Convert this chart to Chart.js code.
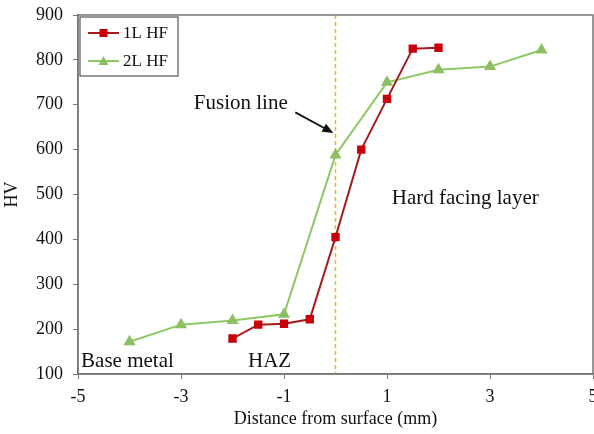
<!DOCTYPE html>
<html>
<head>
<meta charset="utf-8">
<script src="https://cdn.jsdelivr.net/npm/chart.js@4"></script>
<style>
  html, body { margin: 0; padding: 0; background: #fff; }
  #wrap { width: 594px; height: 434px; }
</style>
</head>
<body>
<div id="wrap"><canvas id="hvChart" width="594" height="434"></canvas></div>
<script>
// Hardness profile data
const xOneLayer = [-2, -1.5, -1, -0.5, 0, 0.5, 1, 1.5, 2];
const hvOneLayer = [179, 210, 212, 222, 405, 600, 713, 825, 827];
const xTwoLayer = [-4, -3, -2, -1, 0, 1, 2, 3, 4];
const hvTwoLayer = [172, 210, 219, 233, 588, 750, 778, 785, 822];
const seriesNames = ['1L HF', '2L HF'];

// Text notes: [label, x, y]
const notes = [
  ['Fusion line', -1.84, 702],
  ['Hard facing layer', 2.52, 492],
  ['Base metal', -4.04, 127],
  ['HAZ', -1.28, 127]
];
const fusionX = 0;
const arrowFrom = [-0.78, 683];
const arrowTo = [-0.04, 637];

const serif = "'Liberation Serif', 'Times New Roman', serif";

function toPoints(xs, ys) {
  return xs.map((x, i) => ({ x: x, y: ys[i] }));
}

// Frame, fusion line, annotations and legend
const extrasPlugin = {
  id: 'extras',
  beforeDatasetsDraw(chart) {
    const { ctx, chartArea, scales } = chart;
    const px = scales.x.getPixelForValue(fusionX);
    ctx.save();
    ctx.strokeStyle = '#F2B705';
    ctx.lineWidth = 1.5;
    ctx.setLineDash([4, 3]);
    ctx.beginPath();
    ctx.moveTo(px, chartArea.top);
    ctx.lineTo(px, chartArea.bottom);
    ctx.stroke();
    ctx.restore();
  },
  afterDraw(chart) {
    const { ctx, chartArea, scales } = chart;
    const xs = scales.x, ys = scales.y;
    ctx.save();

    // frame
    ctx.strokeStyle = '#777';
    ctx.lineWidth = 1.5;
    ctx.strokeRect(chartArea.left, chartArea.top, chartArea.right - chartArea.left, chartArea.bottom - chartArea.top);

    // notes
    ctx.fillStyle = '#111';
    ctx.font = '21px ' + serif;
    ctx.textAlign = 'center';
    ctx.textBaseline = 'middle';
    notes.forEach(n => {
      ctx.fillText(n[0], xs.getPixelForValue(n[1]), ys.getPixelForValue(n[2]));
    });

    // arrow
    const x1 = xs.getPixelForValue(arrowFrom[0]), y1 = ys.getPixelForValue(arrowFrom[1]);
    const x2 = xs.getPixelForValue(arrowTo[0]), y2 = ys.getPixelForValue(arrowTo[1]);
    const ang = Math.atan2(y2 - y1, x2 - x1);
    ctx.strokeStyle = '#111';
    ctx.lineWidth = 1.8;
    ctx.beginPath();
    ctx.moveTo(x1, y1);
    ctx.lineTo(x2 - 8 * Math.cos(ang), y2 - 8 * Math.sin(ang));
    ctx.stroke();
    ctx.beginPath();
    ctx.moveTo(x2, y2);
    ctx.lineTo(x2 - 11 * Math.cos(ang) + 4.5 * Math.sin(ang), y2 - 11 * Math.sin(ang) - 4.5 * Math.cos(ang));
    ctx.lineTo(x2 - 11 * Math.cos(ang) - 4.5 * Math.sin(ang), y2 - 11 * Math.sin(ang) + 4.5 * Math.cos(ang));
    ctx.closePath();
    ctx.fillStyle = '#111';
    ctx.fill();

    // legend box
    const lx = chartArea.left + 2, ly = chartArea.top + 2;
    ctx.fillStyle = '#fff';
    ctx.fillRect(lx, ly, 98, 59);
    ctx.strokeStyle = '#555';
    ctx.lineWidth = 1.2;
    ctx.strokeRect(lx, ly, 98, 59);
    ctx.font = '17px ' + serif;
    ctx.textAlign = 'left';
    chart.data.datasets.forEach((ds, i) => {
      const cy = ly + 16 + i * 28;
      ctx.strokeStyle = ds.borderColor;
      ctx.lineWidth = 2;
      ctx.beginPath();
      ctx.moveTo(lx + 8, cy);
      ctx.lineTo(lx + 39, cy);
      ctx.stroke();
      ctx.fillStyle = ds.pointBackgroundColor;
      const mx = lx + 23.5;
      if (ds.pointStyle === 'rect') {
        ctx.fillRect(mx - 4, cy - 4, 8, 8);
      } else {
        ctx.beginPath();
        ctx.moveTo(mx, cy - 5);
        ctx.lineTo(mx + 5, cy + 4);
        ctx.lineTo(mx - 5, cy + 4);
        ctx.closePath();
        ctx.fill();
      }
      ctx.fillStyle = '#111';
      ctx.fillText(ds.label, lx + 43, cy + 1);
    });
    ctx.restore();
  }
};

new Chart(document.getElementById('hvChart'), {
  type: 'scatter',
  data: {
    datasets: [
      {
        label: seriesNames[0],
        data: toPoints(xOneLayer, hvOneLayer),
        showLine: true,
        borderColor: '#A51C1C',
        borderWidth: 2,
        pointStyle: 'rect',
        pointRadius: 4.5,
        pointBackgroundColor: '#C8000A',
        pointBorderColor: '#C8000A',
        tension: 0
      },
      {
        label: seriesNames[1],
        data: toPoints(xTwoLayer, hvTwoLayer),
        showLine: true,
        borderColor: '#8DC865',
        borderWidth: 2,
        pointStyle: 'triangle',
        pointRadius: 5,
        pointBackgroundColor: '#8DBF62',
        pointBorderColor: '#8DBF62',
        tension: 0
      }
    ]
  },
  options: {
    responsive: false,
    animation: false,
    clip: false,
    layout: { autoPadding: false, padding: { top: 15, right: 1, left: 0, bottom: 0 } },
    plugins: {
      legend: { display: false },
      tooltip: { enabled: false }
    },
    scales: {
      x: {
        type: 'linear',
        min: -5,
        max: 5,
        ticks: { stepSize: 2, color: '#111', font: { family: serif, size: 18 }, padding: 7 },
        grid: { drawOnChartArea: false, drawTicks: true, tickLength: 5, color: '#777' },
        border: { display: true, color: '#777', width: 1.5 },
        title: { display: true, text: 'Distance from surface (mm)', color: '#111', font: { family: serif, size: 18 }, padding: { top: 0 } },
        afterFit(scale) { scale.height = 60; scale.paddingLeft = 0; scale.paddingRight = 0; }
      },
      y: {
        min: 100,
        max: 900,
        ticks: { stepSize: 100, color: '#111', font: { family: serif, size: 18 }, padding: 10 },
        grid: { drawOnChartArea: false, drawTicks: true, tickLength: 5, color: '#777' },
        border: { display: true, color: '#777', width: 1.5 },
        title: { display: true, text: 'HV', color: '#111', font: { family: serif, size: 18 }, padding: 1 },
        afterFit(scale) { scale.width = 78; scale.paddingTop = 0; scale.paddingBottom = 0; }
      }
    }
  },
  plugins: [extrasPlugin]
});
</script>
</body>
</html>
